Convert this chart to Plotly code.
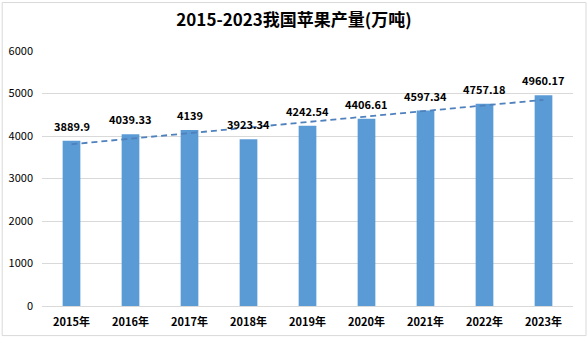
import numpy as np
import plotly.graph_objects as go

years = ["2015年", "2016年", "2017年", "2018年", "2019年", "2020年", "2021年", "2022年", "2023年"]
values = [3889.9, 4039.33, 4139, 3923.34, 4242.54, 4406.61, 4597.34, 4757.18, 4960.17]
labels = ["3889.9", "4039.33", "4139", "3923.34", "4242.54", "4406.61", "4597.34", "4757.18", "4960.17"]
y_ticks = [0, 1000, 2000, 3000, 4000, 5000, 6000]

idx = np.arange(len(values))
slope, intercept = np.polyfit(idx, values, 1)
trend = slope * idx + intercept

font_family = "Noto Sans CJK SC, Lato, sans-serif"

fig = go.Figure()
fig.add_trace(go.Bar(
    x=years, y=values,
    marker=dict(color="#5B9BD5", line=dict(width=0)),
    showlegend=False,
))
fig.add_trace(go.Scatter(
    x=years, y=trend, mode="lines",
    line=dict(color="#4F81BD", width=1.8, dash="6px,4px"),
    showlegend=False, hoverinfo="skip",
))

annotations = [
    dict(x=yr, y=v, text="<b>" + lab + "</b>", showarrow=False, yanchor="bottom",
         yshift=5, font=dict(size=11, color="#000000", family=font_family))
    for yr, v, lab in zip(years, values, labels)
]

fig.update_layout(
    width=588, height=339,
    margin=dict(l=42, r=15, t=51, b=33),
    paper_bgcolor="white", plot_bgcolor="white",
    bargap=0.7,
    title=dict(text="<b>2015-2023我国苹果产量(万吨)</b>", x=0.5, xanchor="center",
               y=0.94, yanchor="middle",
               font=dict(size=17, color="#000000", family=font_family)),
    font=dict(family=font_family, color="#000000"),
    xaxis=dict(showgrid=False, showline=True, linecolor="#D9D9D9", linewidth=1,
               ticks="", tickfont=dict(size=11, color="#000000"), automargin=False,
               tickprefix="<b>", ticksuffix="</b>", ticklabelstandoff=6),
    yaxis=dict(range=[0, 6000], tickvals=y_ticks, showgrid=True, gridcolor="#D9D9D9",
               gridwidth=1, zeroline=False, ticks="", showline=False, automargin=False,
               tickfont=dict(size=11, color="#000000"),
               tickprefix="<b>", ticksuffix="</b>", ticklabelstandoff=8),
    annotations=annotations,
    shapes=[dict(type="rect", xref="paper", yref="paper", x0=-0.075, x1=1.0245,
                 y0=-0.116, y1=1.19, line=dict(color="#D9D9D9", width=1), layer="below")],
)

fig.write_html("out.html")
